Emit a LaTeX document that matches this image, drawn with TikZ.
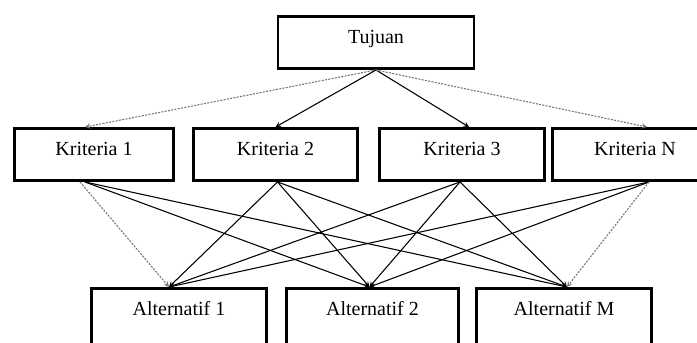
\documentclass[tikz,border=0pt]{standalone}
\usepackage{fontspec}
\setmainfont{Liberation Serif}
\usetikzlibrary{calc}
\tikzset{
  kotak/.style={draw, line width=2.2pt, fill=white, inner xsep=0pt, inner ysep=9.5pt,
    text height=10.5pt, text depth=9pt, minimum height=39pt,
    font=\fontsize{15}{18}\selectfont},
  alt/.style={kotak, anchor=north, text depth=60pt},
  garis/.style={->, line width=0.8pt},
  putus/.style={->, line width=0.8pt, black!55, dash pattern=on 1.5pt off 1pt},
}
\begin{document}
\begin{tikzpicture}[>=stealth, x=0.75pt, y=-0.75pt]
    \clip (0,0) rectangle (697,343);
    % tujuan
    \node[kotak, minimum width=147pt] (tuj) at (376,42.5) {Tujuan};
    % kriteria
    \node[kotak, minimum width=119pt] (k1) at (94,154.5) {Kriteria 1};
    \node[kotak, minimum width=123pt] (k2) at (275.5,154.5) {Kriteria 2};
    \node[kotak, minimum width=123.5pt] (k3) at (462,154.5) {Kriteria 3};
    \node[kotak, minimum width=123.5pt] (kn) at (635,154.5) {Kriteria N};
    % alternatif
    \node[alt, minimum width=131pt] (a1) at (179,287) {Alternatif 1};
    \node[alt, minimum width=129pt] (a2) at (372.5,287) {Alternatif 2};
    \node[alt, minimum width=131pt] (am) at (564,287) {Alternatif M};
    % tujuan ke kriteria
    \draw[putus] (tuj.south) -- ($(k1.north)+(-9,0)$);
    \draw[garis] (tuj.south) -- (k2.north);
    \draw[garis] (tuj.south) -- ($(k3.north)+(7,0)$);
    \draw[putus] (tuj.south) -- ($(kn.north)+(12,0)$);
    % kriteria 1
    \draw[putus] ($(k1.south)+(-14,0)$) -- ($(a1.north)+(-10,0)$);
    \draw[garis] ($(k1.south)+(-9,0)$) -- ($(a2.north)+(-3,0)$);
    \draw[garis] ($(k1.south)+(-9,0)$) -- ($(am.north)+(3,0)$);
    % kriteria 2
    \draw[garis] ($(k2.south)+(2,0)$) -- ($(a1.north)+(-10,0)$);
    \draw[garis] ($(k2.south)+(2,0)$) -- ($(a2.north)+(-3,0)$);
    \draw[garis] ($(k2.south)+(2,0)$) -- ($(am.north)+(3,0)$);
    % kriteria 3
    \draw[garis] ($(k3.south)+(-2,0)$) -- ($(a1.north)+(-10,0)$);
    \draw[garis] ($(k3.south)+(-2,0)$) -- ($(a2.north)+(-3,0)$);
    \draw[garis] ($(k3.south)+(-2,0)$) -- ($(am.north)+(3,0)$);
    % kriteria N
    \draw[garis] ($(kn.south)+(14,0)$) -- ($(a1.north)+(-10,0)$);
    \draw[garis] ($(kn.south)+(14,0)$) -- ($(a2.north)+(-3,0)$);
    \draw[putus] ($(kn.south)+(14,0)$) -- ($(am.north)+(3,0)$);
\end{tikzpicture}
\end{document}
